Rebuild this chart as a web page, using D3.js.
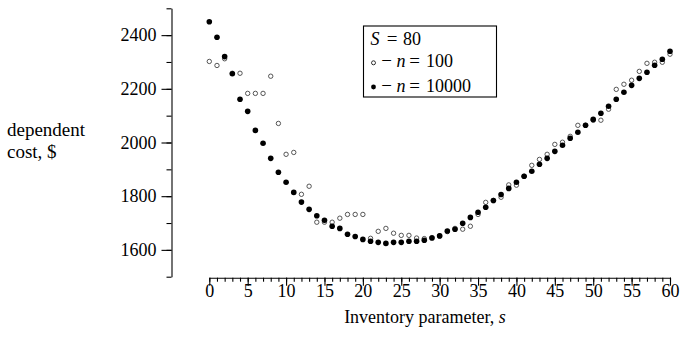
<!DOCTYPE html>
<html>
<head>
<meta charset="utf-8">
<script src="https://cdn.jsdelivr.net/npm/d3@7"></script>
<style>
  html, body { margin: 0; padding: 0; background: #fff; }
  svg { display: block; }
  text { font-family: "Liberation Serif", "Times New Roman", serif; fill: #000; }
</style>
</head>
<body>
<svg id="chart" width="681" height="339"></svg>
<script>
// ---- data ----
const sValues = d3.range(0, 61);
const costN10000 = [2450, 2392, 2320, 2256, 2161, 2116, 2045, 1997, 1941, 1889,
  1852, 1814, 1778, 1751, 1727, 1710, 1688, 1680, 1658, 1650,
  1639, 1632, 1628, 1624, 1628, 1628, 1632, 1632, 1636, 1644,
  1652, 1670, 1677, 1699, 1721, 1740, 1759, 1784, 1806, 1829,
  1852, 1874, 1893, 1919, 1941, 1967, 1990, 2016, 2038, 2064,
  2086, 2109, 2135, 2161, 2187, 2213, 2239, 2262, 2288, 2310, 2340];
const costN100 = [2302, 2287, 2312, 2258, 2258, 2183, 2183, 2183, 2247, 2071,
  1956, 1963, 1807, 1837, 1703, 1703, 1703, 1718, 1732, 1732,
  1732, 1643, 1669, 1680, 1662, 1654, 1654, 1644, 1642, 1646,
  1652, 1668, 1680, 1677, 1688, 1732, 1777, 1784, 1796, 1842,
  1841, 1874, 1915, 1937, 1956, 1993, 2001, 2023, 2064, 2064,
  2083, 2083, 2124, 2198, 2217, 2232, 2265, 2295, 2299, 2299, 2329];
const xMajorTicks = d3.range(0, 61, 5);
const xMinorTicks = d3.range(0, 61, 1);
const yMajorTicks = [1600, 1800, 2000, 2200, 2400];
const yMinorTicks = d3.range(1500, 2501, 100);
const legendTitle = ["S", "80"];
const legendLabels = [["n", "100"], ["n", "10000"]];

// ---- layout ----
const svg = d3.select("#chart");
const x = d3.scaleLinear().domain([0, 60]).range([209.3, 670]);
const y = d3.scaleLinear().domain([1500, 2500]).range([276.7, 8.3]);
const yAxisX = 171.5;
const xAxisY = 277.7;
const fs = "18px";

// y axis (offset)
const gy = svg.append("g").attr("transform", `translate(${yAxisX},0)`);
gy.call(d3.axisLeft(y).tickValues(yMinorTicks).tickSize(5).tickSizeOuter(0).tickFormat(""));
const gyMaj = svg.append("g").attr("transform", `translate(${yAxisX},0)`);
gyMaj.call(d3.axisLeft(y).tickValues(yMajorTicks).tickSize(10).tickPadding(5).tickSizeOuter(0).tickFormat(d3.format("d")));
gyMaj.select(".domain").remove();
gyMaj.selectAll("text").style("font-size", fs);

// x axis
const gx = svg.append("g").attr("transform", `translate(0,${xAxisY})`);
gx.call(d3.axisBottom(x).tickValues(xMinorTicks).tickSize(4).tickSizeOuter(0).tickFormat(""));
const gxMaj = svg.append("g").attr("transform", `translate(0,${xAxisY})`);
gxMaj.call(d3.axisBottom(x).tickValues(xMajorTicks).tickSize(8).tickSizeOuter(0).tickFormat(d3.format("d")));
gxMaj.select(".domain").remove();
gxMaj.selectAll("text").style("font-size", fs).attr("y", 19).attr("dy", 0);

svg.selectAll(".domain, .tick line").attr("stroke", "#000").attr("stroke-width", 1.1);
svg.selectAll(".tick text").attr("fill", "#000");

// axis titles
const yt = svg.append("text").style("font-size", "19px");
yt.append("tspan").attr("x", 7).attr("y", 136).text("dependent");
yt.append("tspan").attr("x", 7).attr("y", 158).text("cost, $");

const xt = svg.append("text").attr("x", 425).attr("y", 323).attr("text-anchor", "middle").style("font-size", fs);
xt.append("tspan").text("Inventory parameter, ");
xt.append("tspan").attr("font-style", "italic").text("s");

// data points: open (n=100) under filled (n=10000)
svg.append("g").selectAll("circle").data(sValues).join("circle")
  .attr("cx", d => x(d)).attr("cy", (d, i) => y(costN100[i]))
  .attr("r", 2.2).attr("fill", "#fff").attr("stroke", "#444").attr("stroke-width", 0.9);
svg.append("g").selectAll("circle").data(sValues).join("circle")
  .attr("cx", d => x(d)).attr("cy", (d, i) => y(costN10000[i]))
  .attr("r", 2.8).attr("fill", "#000");

// legend
const lg = svg.append("g");
lg.append("rect").attr("x", 363.5).attr("y", 26).attr("width", 133).attr("height", 71)
  .attr("fill", "#fff").attr("stroke", "#000").attr("stroke-width", 1.1);
const t1 = lg.append("text").attr("y", 45.3).style("font-size", fs);
t1.append("tspan").attr("x", 370.5).attr("font-style", "italic").text(legendTitle[0]);
lg.append("text").attr("x", 392).attr("y", 45.3).attr("text-anchor", "middle").style("font-size", "19px").text("=");
lg.append("text").attr("x", 403).attr("y", 45.3).style("font-size", fs).text(legendTitle[1]);

const rows = [{y: 67.3, open: true, lab: legendLabels[0]}, {y: 91.5, open: false, lab: legendLabels[1]}];
rows.forEach(r => {
  if (r.open) {
    lg.append("circle").attr("cx", 373.5).attr("cy", r.y - 4.5).attr("r", 2).attr("fill", "#fff").attr("stroke", "#000").attr("stroke-width", 0.8);
  } else {
    lg.append("circle").attr("cx", 373.5).attr("cy", r.y - 4.5).attr("r", 2.4).attr("fill", "#000");
  }
  lg.append("text").attr("x", 386.7).attr("y", r.y).attr("text-anchor", "middle").style("font-size", "19px").text("\u2212");
  lg.append("text").attr("x", 396.5).attr("y", r.y).attr("font-style", "italic").style("font-size", fs).text(r.lab[0]);
  lg.append("text").attr("x", 414.5).attr("y", r.y).attr("text-anchor", "middle").style("font-size", "19px").text("=");
  lg.append("text").attr("x", 426).attr("y", r.y).style("font-size", fs).text(r.lab[1]);
});
</script>
</body>
</html>
